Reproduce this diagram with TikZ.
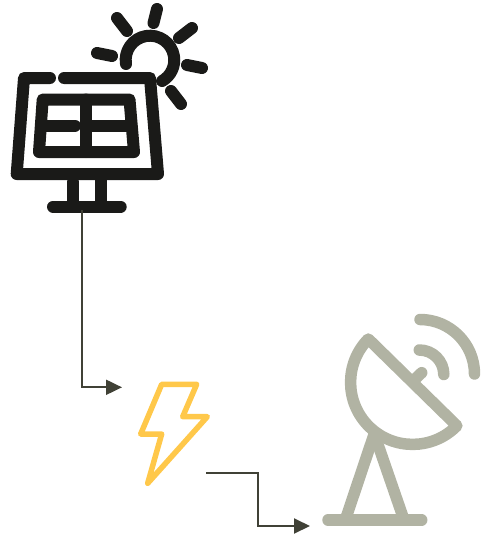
\documentclass[tikz,border=0pt]{standalone}
\usetikzlibrary{arrows.meta}
\definecolor{iconblack}{HTML}{1A1A18}
\definecolor{dishgrey}{HTML}{B1B3A3}
\definecolor{boltyellow}{HTML}{FFC84A}
\definecolor{wirecol}{HTML}{404136}
\tikzset{
  panelline/.style={draw=iconblack,line width=12pt,line cap=round,line join=round},
  dishline/.style={draw=dishgrey,line width=11.5pt,line cap=round,line join=round},
  boltline/.style={draw=boltyellow,line width=5.5pt,line cap=round,line join=round},
  wire/.style={draw=wirecol,line width=2pt,-{Triangle[length=16pt,width=15pt]}}
}
\begin{document}
\begin{tikzpicture}[x=1pt,y=-1pt]
\useasboundingbox (0,0) rectangle (487,541);
% solar panel
\draw[panelline] (50,78) -- (24,78) -- (16.7,174) -- (158,174) -- (150,78) -- (64,78);
\draw[panelline] (42.7,99.5) -- (129.5,99.5) -- (134,152) -- (39,152) -- cycle;
\draw[panelline] (86,99.5) -- (86,152);
\draw[panelline] (42,125.5) -- (75,125.5);
\draw[panelline] (86,125.5) -- (131,125.5);
\draw[panelline] (73,182) -- (73,206);
\draw[panelline] (100.7,174) -- (100.7,206);
\draw[panelline] (53,206.7) -- (120.7,206.7);
% sun
\draw[panelline] (126,64) arc[start angle=189.5,end angle=-60,radius=24.3pt];
\draw[panelline] (157,9) -- (153.5,23);
\draw[panelline] (117,18) -- (127,31);
\draw[panelline] (97,53) -- (112,56);
\draw[panelline] (192,28) -- (179,38);
\draw[panelline] (187,65) -- (202,68);
\draw[panelline] (171,91) -- (181,104);
% bolt
\draw[boltline] (161.7,384.3) -- (196.7,384.3) -- (182.7,416.7) -- (207.3,416.7) -- (147.7,483.3) -- (161.7,434) -- (140.7,434) -- cycle;
% dish
\draw[dishline] (368.3,339) arc[start angle=135.6,end angle=315.6,radius=62pt] -- cycle;
\draw[dishline] (414,380) -- (421.7,372.7);
\draw[dishline] (419.3,350) arc[start angle=90,end angle=0,radius=24.5pt];
\draw[dishline] (420,319.5) arc[start angle=90,end angle=0,radius=54.5pt];
\draw[dishline] (374.5,433) -- (346.3,517);
\draw[dishline] (374,433) -- (403,517);
\draw[dishline] (328,520) -- (421.7,520);
% connectors
\coordinate (panelout) at (81.5,210);
\coordinate (boltin) at (122,387.3);
\coordinate (boltout) at (206,473.3);
\coordinate (dishturn) at (258,473.3);
\coordinate (dishin) at (310,526);
\draw[wire] (panelout) |- (boltin);
\draw[wire] (boltout) -- (dishturn) |- (dishin);
\end{tikzpicture}
\end{document}
